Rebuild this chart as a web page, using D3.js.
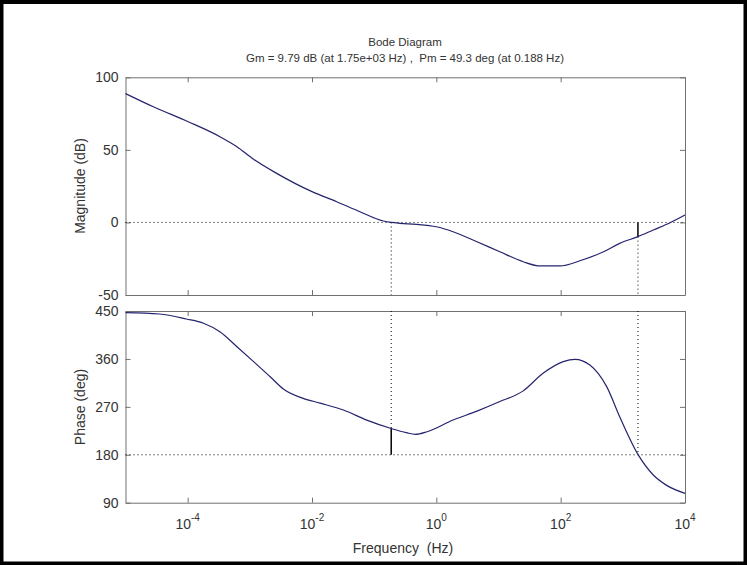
<html>
  <head>
    <meta charset="utf-8">
    <title>Bode Diagram</title>
    <script src="https://d3js.org/d3.v7.min.js"></script>
    <style>
      body { margin: 0; background: #fff; }
      svg text { font-family: "Liberation Sans", Arial, sans-serif; fill: #333; }
      .axis path, .axis line { stroke: #707070; }
    </style>
  </head>
  <body>
    <svg id="bode" width="747" height="565"></svg>

    <script>
    // magnitude curve (Hz, dB)
    const magFreq = [1.0e-5, 2.8e-5, 1.02e-4, 3.3e-4, 6.2e-4, 1.15e-3, 2.7e-3, 1.0e-2, 0.025, 0.059, 0.14, 0.188, 0.26, 0.48,
                     1.0, 1.86, 4.5, 10.5, 25, 47, 98, 204, 490, 890, 1750, 3090, 5750, 10000];
    const magDb = [88.8, 79.7, 69.4, 59.1, 52.2, 43.5, 33.8, 21.2, 14.3, 7.4, 1.0, 0, -0.6, -1.3,
                   -3.0, -6.4, -13.3, -20.2, -27.1, -30.0, -30.0, -26.4, -20.2, -14.4, -9.79, -5.2, -0.2, 5.1];

    // phase curve (Hz, deg)
    const phaseFreq = [1.0e-5, 3.5e-5, 9.5e-5, 1.8e-4, 3.3e-4, 6.2e-4, 1.15e-3, 2.1e-3, 3.5e-3, 7.2e-3, 0.0135, 0.032, 0.076,
                       0.188, 0.33, 0.46, 0.71, 1.86, 4.5, 10.5, 25, 52, 110, 170, 295, 550, 890, 1750, 3090, 5000, 10000];
    const phaseDeg = [447, 444.4, 435, 427, 411, 383, 355, 327, 303, 286, 277, 264, 245,
                      229.3, 221.5, 218.4, 223.3, 245.3, 262, 280, 300, 333, 355, 359.3, 348.6, 308, 251.5, 180.7, 142, 123, 107.6];

    // margins
    const gmFreq = 1750, gmDb = 9.79;
    const pmFreq = 0.188, pmDeg = 49.3;

    // ticks
    const xTickExps = [-4, -2, 0, 2, 4];
    const magTicks = [-50, 0, 50, 100];
    const phaseTicks = [90, 180, 270, 360, 450];

    const svg = d3.select("svg#bode");
    const left = 125.5, right = 685;

    // outer frame
    svg.append("rect").attr("x", 0).attr("y", 0).attr("width", 747).attr("height", 565).attr("fill", "#fff");
    svg.append("rect").attr("x", 1.5).attr("y", 2).attr("width", 744).attr("height", 561.5)
       .attr("fill", "none").attr("stroke", "#000").attr("stroke-width", 4);

    const x = d3.scaleLog().domain([1e-5, 1e4]).range([left, right]);
    const yMag = d3.scaleLinear().domain([-50, 100]).range([295, 77.3]);
    const yPhase = d3.scaleLinear().domain([90, 450]).range([502.7, 311]);

    const xTickVals = xTickExps.map(e => Math.pow(10, e));

    function drawBox(y, ticks) {
      const g = svg.append("g");
      const r = y.range();
      g.append("g").attr("class", "axis").attr("transform", "translate(0," + r[0] + ")")
        .call(d3.axisBottom(x).tickValues(xTickVals).tickSize(-5).tickSizeOuter(0).tickFormat(""));
      g.append("g").attr("class", "axis").attr("transform", "translate(0," + r[1] + ")")
        .call(d3.axisTop(x).tickValues(xTickVals).tickSize(-5).tickSizeOuter(0).tickFormat(""));
      g.append("g").attr("class", "axis").attr("transform", "translate(" + left + ",0)")
        .call(d3.axisLeft(y).tickValues(ticks).tickSize(-5).tickSizeOuter(0).tickPadding(7).tickFormat(d => String(d)));
      g.append("g").attr("class", "axis").attr("transform", "translate(" + right + ",0)")
        .call(d3.axisRight(y).tickValues(ticks).tickSize(-5).tickSizeOuter(0).tickFormat(""));
      g.selectAll("text").attr("font-size", 14).attr("fill", "#333")
        .attr("font-family", "'Liberation Sans', Arial, sans-serif");
      return g;
    }

    drawBox(yMag, magTicks);
    drawBox(yPhase, phaseTicks);

    // x tick labels, 10^n
    const xl = svg.append("g").attr("font-size", 14);
    xTickExps.forEach(e => {
      const t = xl.append("text").attr("x", x(Math.pow(10, e))).attr("y", 529).attr("text-anchor", "middle");
      t.append("tspan").text("10");
      t.append("tspan").attr("dy", -8).attr("font-size", 10).text(e);
    });

    const dotted = "1,3";
    function seg(x1, y1, x2, y2, dash) {
      svg.append("line").attr("x1", x1).attr("y1", y1).attr("x2", x2).attr("y2", y2)
         .attr("stroke", "#000").attr("stroke-width", dash ? 1 : 1.5)
         .attr("stroke-dasharray", dash ? dotted : null);
    }

    // magnitude margins
    seg(left, yMag(0), right, yMag(0), true);
    seg(x(pmFreq), yMag(0), x(pmFreq), yMag(-50), true);
    seg(x(gmFreq), yMag(-gmDb), x(gmFreq), yMag(-50), true);
    seg(x(gmFreq), yMag(0), x(gmFreq), yMag(-gmDb), false);

    // phase margins
    seg(left, yPhase(180), right, yPhase(180), true);
    seg(x(pmFreq), yPhase(450), x(pmFreq), yPhase(180 + pmDeg), true);
    seg(x(pmFreq), yPhase(180 + pmDeg), x(pmFreq), yPhase(180), false);
    seg(x(gmFreq), yPhase(450), x(gmFreq), yPhase(180), true);

    // curves
    const magLine = d3.line().x((d, i) => x(magFreq[i])).y(d => yMag(d)).curve(d3.curveMonotoneX);
    const phaseLine = d3.line().x((d, i) => x(phaseFreq[i])).y(d => yPhase(d)).curve(d3.curveMonotoneX);

    svg.append("path").datum(magDb).attr("fill", "none").attr("stroke", "#24246e").attr("stroke-width", 1.2).attr("d", magLine);
    svg.append("path").datum(phaseDeg).attr("fill", "none").attr("stroke", "#24246e").attr("stroke-width", 1.2).attr("d", phaseLine);

    // titles and labels
    svg.append("text").attr("x", 405).attr("y", 46).attr("text-anchor", "middle").attr("font-size", 11.5).text("Bode Diagram");
    svg.append("text").attr("x", 405).attr("y", 62).attr("text-anchor", "middle").attr("font-size", 11.5)
       .attr("xml:space", "preserve")
       .text("Gm = " + gmDb + " dB (at 1.75e+03 Hz) ,  Pm = " + pmDeg + " deg (at " + pmFreq + " Hz)");

    svg.append("text").attr("x", 403).attr("y", 553).attr("text-anchor", "middle").attr("font-size", 14)
       .attr("xml:space", "preserve").text("Frequency  (Hz)");

    svg.append("text").attr("transform", "translate(85,186) rotate(-90)").attr("text-anchor", "middle")
       .attr("font-size", 14).text("Magnitude (dB)");
    svg.append("text").attr("transform", "translate(85,407) rotate(-90)").attr("text-anchor", "middle")
       .attr("font-size", 14).text("Phase (deg)");
    </script>
  </body>
</html>
